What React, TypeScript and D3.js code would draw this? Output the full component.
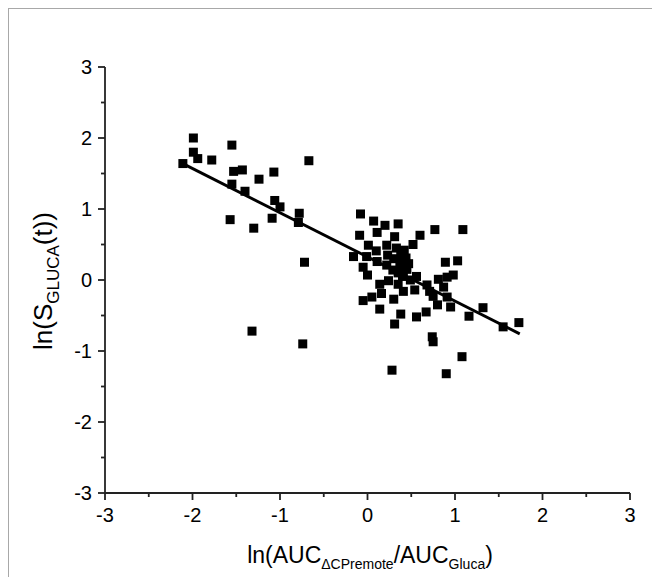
import React from "react";
import * as d3 from "d3";

const xValues = [
  -1.99, -1.99, -1.94, -2.11, -1.78, -1.55, -0.67, -1.53, -1.43, -1.07, -1.24, -1.55,
  -1.4, -1.06, -1.0, -1.09, -0.78, -0.79, -1.57, -1.3, -0.72, -1.32, -0.74,
  -0.16, -0.08, 0.07, 0.2, 0.35, 0.77, 1.09, -0.09, 0.11, 0.31, 0.6, 0.52, 0.01, 0.22,
  0.1, -0.01, 0.23, 0.42, 0.44, 0.11, 0.22, 0.37, 0.47, 0.89, 1.03, -0.05, 0.0, 0.29,
  0.41, 0.56, 0.81, 0.91, 0.98, 0.24, 0.35, 0.49, 0.68, 0.87, 0.41, 0.54, 0.71, 0.75,
  0.91, -0.05, 0.05, 0.16, 0.3, 0.14, 0.8, 0.95, 1.16, 1.32, 0.38, 0.56, 0.67, 0.31,
  1.55, 1.73, 0.74, 0.75, 1.08, 0.28, 0.9, 0.14, 0.38, 0.4, 0.42, 0.38, 0.35, 0.45,
  0.4, 0.3, 0.33,
];
const yValues = [
  2.0, 1.8, 1.71, 1.64, 1.69, 1.9, 1.68, 1.53, 1.55, 1.52, 1.42, 1.35,
  1.25, 1.12, 1.03, 0.87, 0.94, 0.81, 0.85, 0.73, 0.25, -0.72, -0.9,
  0.33, 0.93, 0.83, 0.77, 0.79, 0.71, 0.71, 0.63, 0.67, 0.61, 0.63, 0.5, 0.49, 0.49,
  0.41, 0.33, 0.35, 0.42, 0.31, 0.26, 0.21, 0.26, 0.23, 0.25, 0.27, 0.18, 0.07, 0.14,
  0.12, 0.05, 0.01, 0.04, 0.07, -0.01, -0.06, 0.0, -0.07, -0.1, -0.16, -0.14, -0.16, -0.23,
  -0.24, -0.29, -0.24, -0.19, -0.27, -0.41, -0.35, -0.38, -0.51, -0.39, -0.48, -0.52, -0.45, -0.62,
  -0.66, -0.6, -0.8, -0.87, -1.08, -1.27, -1.32, -0.06, 0.4, 0.35, 0.28, 0.2, 0.1, 0.15,
  0.05, 0.3, 0.45,
];

const fitSlope = -0.623;
const fitIntercept = 0.325;
const fitXStart = -2.11;
const fitXEnd = 1.74;

const xTickValues = [-3, -2, -1, 0, 1, 2, 3];
const yTickValues = [-3, -2, -1, 0, 1, 2, 3];

const W = 652;
const H = 577;
const FONT = "Arial, 'Liberation Sans', Helvetica, sans-serif";

export default function App() {
  const x = d3.scaleLinear().domain([-3, 3]).range([105, 630]);
  const y = d3.scaleLinear().domain([-3, 3]).range([493, 67]);
  const minorX = x.ticks(12).filter((t) => !xTickValues.includes(t));
  const minorY = y.ticks(12).filter((t) => !yTickValues.includes(t));
  const pts = xValues.map((v, i) => [v, yValues[i]] as [number, number]);
  const fit = d3
    .line<number>()
    .x((d) => x(d))
    .y((d) => y(fitIntercept + fitSlope * d));
  const sq = 9;
  const x0 = x(-3);
  const y0 = y(-3);

  return (
    <svg
      width={W}
      height={H}
      style={{ position: "absolute", left: 0, top: 0, background: "#fff" }}
      fontFamily={FONT}
    >
      <rect x={0} y={0} width={W} height={H} fill="#fff" />
      <rect x={8.5} y={8.5} width={W + 10} height={H + 10} fill="none" stroke="#a8a8a8" strokeWidth={1} />

      {/* points */}
      {pts.map((p, i) => (
        <rect key={i} x={x(p[0]) - sq / 2} y={y(p[1]) - sq / 2} width={sq} height={sq} fill="#000" />
      ))}

      {/* regression line */}
      <path d={fit([fitXStart, fitXEnd]) || ""} stroke="#000" strokeWidth={2.9} fill="none" />

      {/* axes */}
      <line x1={x0} y1={y(3)} x2={x0} y2={y0} stroke="#222" strokeWidth={1.8} />
      <line x1={x0} y1={y0} x2={x(3)} y2={y0} stroke="#222" strokeWidth={1.8} />

      {xTickValues.map((t) => (
        <g key={"xt" + t}>
          <line x1={x(t)} x2={x(t)} y1={y0} y2={y0 + 7} stroke="#222" strokeWidth={1.8} />
          <text x={x(t)} y={y0 + 29} textAnchor="middle" fontSize={20} fill="#000">
            {t}
          </text>
        </g>
      ))}
      {minorX.map((t) => (
        <line key={"xm" + t} x1={x(t)} x2={x(t)} y1={y0} y2={y0 + 4} stroke="#222" strokeWidth={1.8} />
      ))}
      {yTickValues.map((t) => (
        <g key={"yt" + t}>
          <line x1={x0 - 7} x2={x0} y1={y(t)} y2={y(t)} stroke="#222" strokeWidth={1.8} />
          <text x={x0 - 13} y={y(t) + 7} textAnchor="end" fontSize={20} fill="#000">
            {t}
          </text>
        </g>
      ))}
      {minorY.map((t) => (
        <line key={"ym" + t} x1={x0 - 4} x2={x0} y1={y(t)} y2={y(t)} stroke="#222" strokeWidth={1.8} />
      ))}

      {/* axis titles */}
      <text x={370} y={563} textAnchor="middle" fontSize={23} fill="#000">
        ln(AUC
        <tspan fontSize={14} dy={6}>ΔCPremote</tspan>
        <tspan dy={-6}>/AUC</tspan>
        <tspan fontSize={14} dy={6}>Gluca</tspan>
        <tspan dy={-6}>)</tspan>
      </text>
      <text
        transform={`translate(52, ${y(0) + 1}) rotate(-90)`}
        textAnchor="middle"
        fontSize={26}
        fill="#000"
      >
        ln(S
        <tspan fontSize={17} dy={7}>GLUCA</tspan>
        <tspan dy={-7}>(t))</tspan>
      </text>
    </svg>
  );
}
